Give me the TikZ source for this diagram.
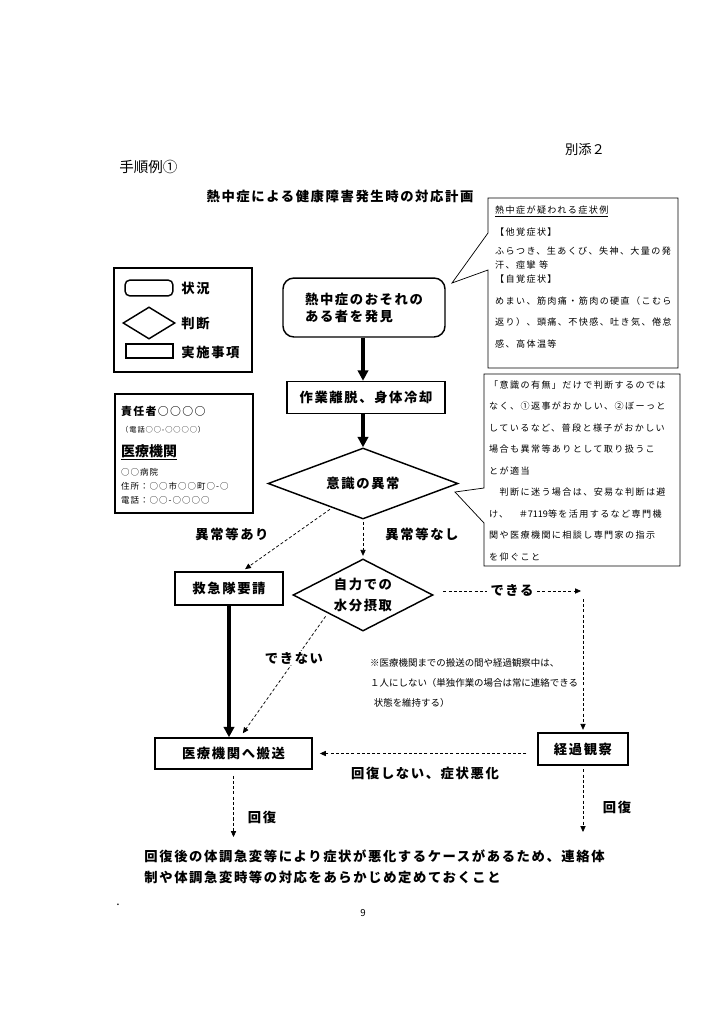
\documentclass[tikz,border=0pt]{standalone}
\usepackage{fontspec}
\setmainfont{Noto Sans CJK JP}
\newfontfamily\jpwide{Noto Sans CJK JP}[LetterSpace=12]
\newfontfamily\jpnote{Noto Sans CJK JP}[LetterSpace=15]
\newfontfamily\jpmid{Noto Sans CJK JP}[LetterSpace=12]
\usetikzlibrary{positioning,arrows.meta,calc,shapes.geometric}

\begin{document}
\begin{tikzpicture}[x=0.029cm, y=-0.029cm,
  font=\jpwide\bfseries\fontsize{11}{14}\selectfont,
  box/.style 2 args={draw, line width=1.2pt, minimum width=#1, minimum height=#2,
    inner sep=0pt, align=center},
  state/.style 2 args={box={#1}{#2}, rounded corners=9pt},
  judge/.style 2 args={diamond, draw, line width=1.2pt, minimum width=#1,
    minimum height=#2, inner sep=0pt, align=center},
  lbl/.style={inner sep=1pt},
  note/.style={font=\jpnote\fontsize{7.5}{17.7}\selectfont, align=left, inner sep=0pt,
    anchor=north west},
  small/.style={anchor=west, inner sep=0pt, font=\jpmid\fontsize{7}{9}\selectfont},
  bubble/.style={draw, line width=0.6pt},
  thickarr/.style={-{Triangle[length=3mm,width=3mm]}, line width=2.6pt},
  dasharr/.style={-{Triangle[length=1.7mm,width=1.5mm]}, line width=0.6pt,
    dash pattern=on 2.5pt off 1.8pt},
]
\fill[white] (0,0) rectangle (724,1024);
\useasboundingbox (0,0) rectangle (724,1024);

% Page header.
\node[font=\fontsize{11}{13}\selectfont] (annex) at (585,150) {別添２};
\node[anchor=west, font=\fontsize{12}{14}\selectfont] (proc) at (115,167) {手順例①};
\node[lbl] (title) at (340,196) {熱中症による健康障害発生時の対応計画};

% Legend.
\node[draw, line width=1.2pt, minimum width=4.00cm, minimum height=3.02cm] (legend) at (183,320) {};
\node[state={1.39cm}{0.46cm}, rounded corners=4pt] (legstate) at (149,288) {};
\node[judge={1.51cm}{0.93cm}, aspect=1.6] (legjudge) at (149,323) {};
\node[box={1.36cm}{0.41cm}] (legact) at (149.5,351) {};
\node[lbl, anchor=west] (legstatetxt) at (180,288) {状況};
\node[lbl, anchor=west] (legjudgetxt) at (180,323) {判断};
\node[lbl, anchor=west] (legacttxt) at (180,352) {実施事項};

% Contact card.
\node[draw, line width=1.2pt, minimum width=4.00cm, minimum height=3.45cm] (card) at (184,453.5) {};
\node[small, font=\jpmid\bfseries\fontsize{9}{11}\selectfont] (chief) at (121,411) {責任者○○○○};
\node[small, font=\jpmid\fontsize{6}{8}\selectfont] (chieftel) at (121,430) {（電話○○-○○○○）};
\node[small, font=\bfseries\fontsize{11.5}{13}\selectfont] (hospname) at (121,452) {\underline{医療機関}};
\node[small] (clinic) at (121,472) {○○病院};
\node[small] (addr) at (121,486) {住所：○○市○○町○-○};
\node[small] (phone) at (121,500) {電話：○○-○○○○};

% Main flow.
\node[state={4.70cm}{1.71cm}, align=left] (find) at (364,307.5) {熱中症のおそれの\\ある者を発見};
\node[box={4.58cm}{0.93cm}] (leave) at (366,397.5) {作業離脱、身体冷却};
\node[judge={5.51cm}{2.06cm}, aspect=2.68] (aware) at (363,483.5) {意識の異常};
\node[box={3.13cm}{0.96cm}] (call) at (229,588.5) {救急隊要請};
\node[judge={4.06cm}{2.09cm}, aspect=1.94, font=\jpwide\bfseries\fontsize{11}{17.3}\selectfont]
  (drink) at (363,595) {自力での\\水分摂取};
\node[box={4.55cm}{0.90cm}] (hosp) at (233.5,753.5) {医療機関へ搬送};
\node[box={2.61cm}{0.93cm}] (watch) at (583,749) {経過観察};
\coordinate (turn) at (581,591);
\coordinate (turndown) at (583,599);
\coordinate (hospdown) at (233.5,837);
\coordinate (watchdown) at (583,832);

\draw[thickarr] (find.south -| aware.north) -- (leave.north -| aware.north);
\draw[thickarr] (leave.south -| aware.north) -- (aware.north);
\draw[dasharr, shorten <=2pt, shorten >=3pt] ($(aware.south west)!0.35!(aware.south)$) -- ([xshift=0.38cm]call.north);
\draw[dasharr, shorten <=2pt, shorten >=2pt] (aware.south) -- (drink.north);
\draw[dasharr, shorten <=8pt] (drink.east |- turn) -- (turn);
\draw[dasharr, shorten >=2pt] (turndown) -- (watch.north);
\draw[thickarr] (call.south) -- (call.south |- hosp.north);
\draw[dasharr, shorten <=3pt, shorten >=4pt] (drink.south west) -- ([xshift=0.19cm]hosp.north);
\draw[dasharr, shorten <=9pt, shorten >=6pt] (watch.west |- hosp.east) -- (hosp.east);
\draw[dasharr, shorten <=5pt] (hosp.south) -- (hospdown);
\draw[dasharr, shorten <=3pt] (watch.south) -- (watchdown);

% Branch labels.
\node[lbl] (yesabn) at (232,534) {異常等あり};
\node[lbl] (noabn) at (422,534) {異常等なし};
\node[lbl, fill=white, inner sep=3pt] (can) at (512,590) {できる};
\node[lbl, fill=white] (cannot) at (294,658) {できない};
\node[lbl] (worse) at (425,773) {回復しない、症状悪化};
\node[lbl] (recover1) at (262,817) {回復};
\node[lbl] (recover2) at (617,807) {回復};

% Callouts.
\draw[bubble] (488,198) -- (678,198) -- (678,368) -- (488,368) -- (488,270)
  -- (452,283) -- (488,233) -- cycle;
\node[note] (signs) at (495,206)
  {\underline{熱中症が疑われる症状例}\\
   【他覚症状】\\[-1.6pt]
   ふらつき、生あくび、失神、大量の発\\[-6.6pt]
   汗、痙攣 等\\[-5.8pt]
   【自覚症状】\\
   めまい、筋肉痛・筋肉の硬直（こむら\\
   返り）、頭痛、不快感、吐き気、倦怠\\
   感、高体温等};
\draw[bubble] (484,374) -- (680,374) -- (680,566) -- (484,566) -- (484,523)
  -- (455,492) -- (484,488) -- cycle;
\node[note] (judgehint) at (489,380.5)
  {「意識の有無」だけで判断するのでは\\
   なく、①返事がおかしい、②ぼーっと\\
   しているなど、普段と様子がおかしい\\
   場合も異常等ありとして取り扱うこ\\
   とが適当\\
   　判断に迷う場合は、安易な判断は避\\
   け、　{\normalfont ＃7119}等を活用するなど専門機\\
   関や医療機関に相談し専門家の指示\\
   を仰ぐこと};
\node[font=\fontsize{7.8}{16.5}\selectfont, align=left, anchor=north west, inner sep=0pt]
  (escort) at (370,658)
  {※医療機関までの搬送の間や経過観察中は、\\
   １人にしない（単独作業の場合は常に連絡できる\\
   \hspace*{3pt}状態を維持する）};

% Closing remark.
\node[lbl, align=left, anchor=west, font=\jpwide\bfseries\fontsize{11}{17.3}\selectfont]
  (after) at (143,867)
  {回復後の体調急変等により症状が悪化するケースがあるため、連絡体\\
   制や体調急変時等の対応をあらかじめ定めておくこと};

\node[anchor=base, font=\fontsize{10}{12}\selectfont] (dot) at (118,905) {.};
\node[font=\fontsize{8}{10}\selectfont] (page) at (363,913) {9};
\end{tikzpicture}
\end{document}
